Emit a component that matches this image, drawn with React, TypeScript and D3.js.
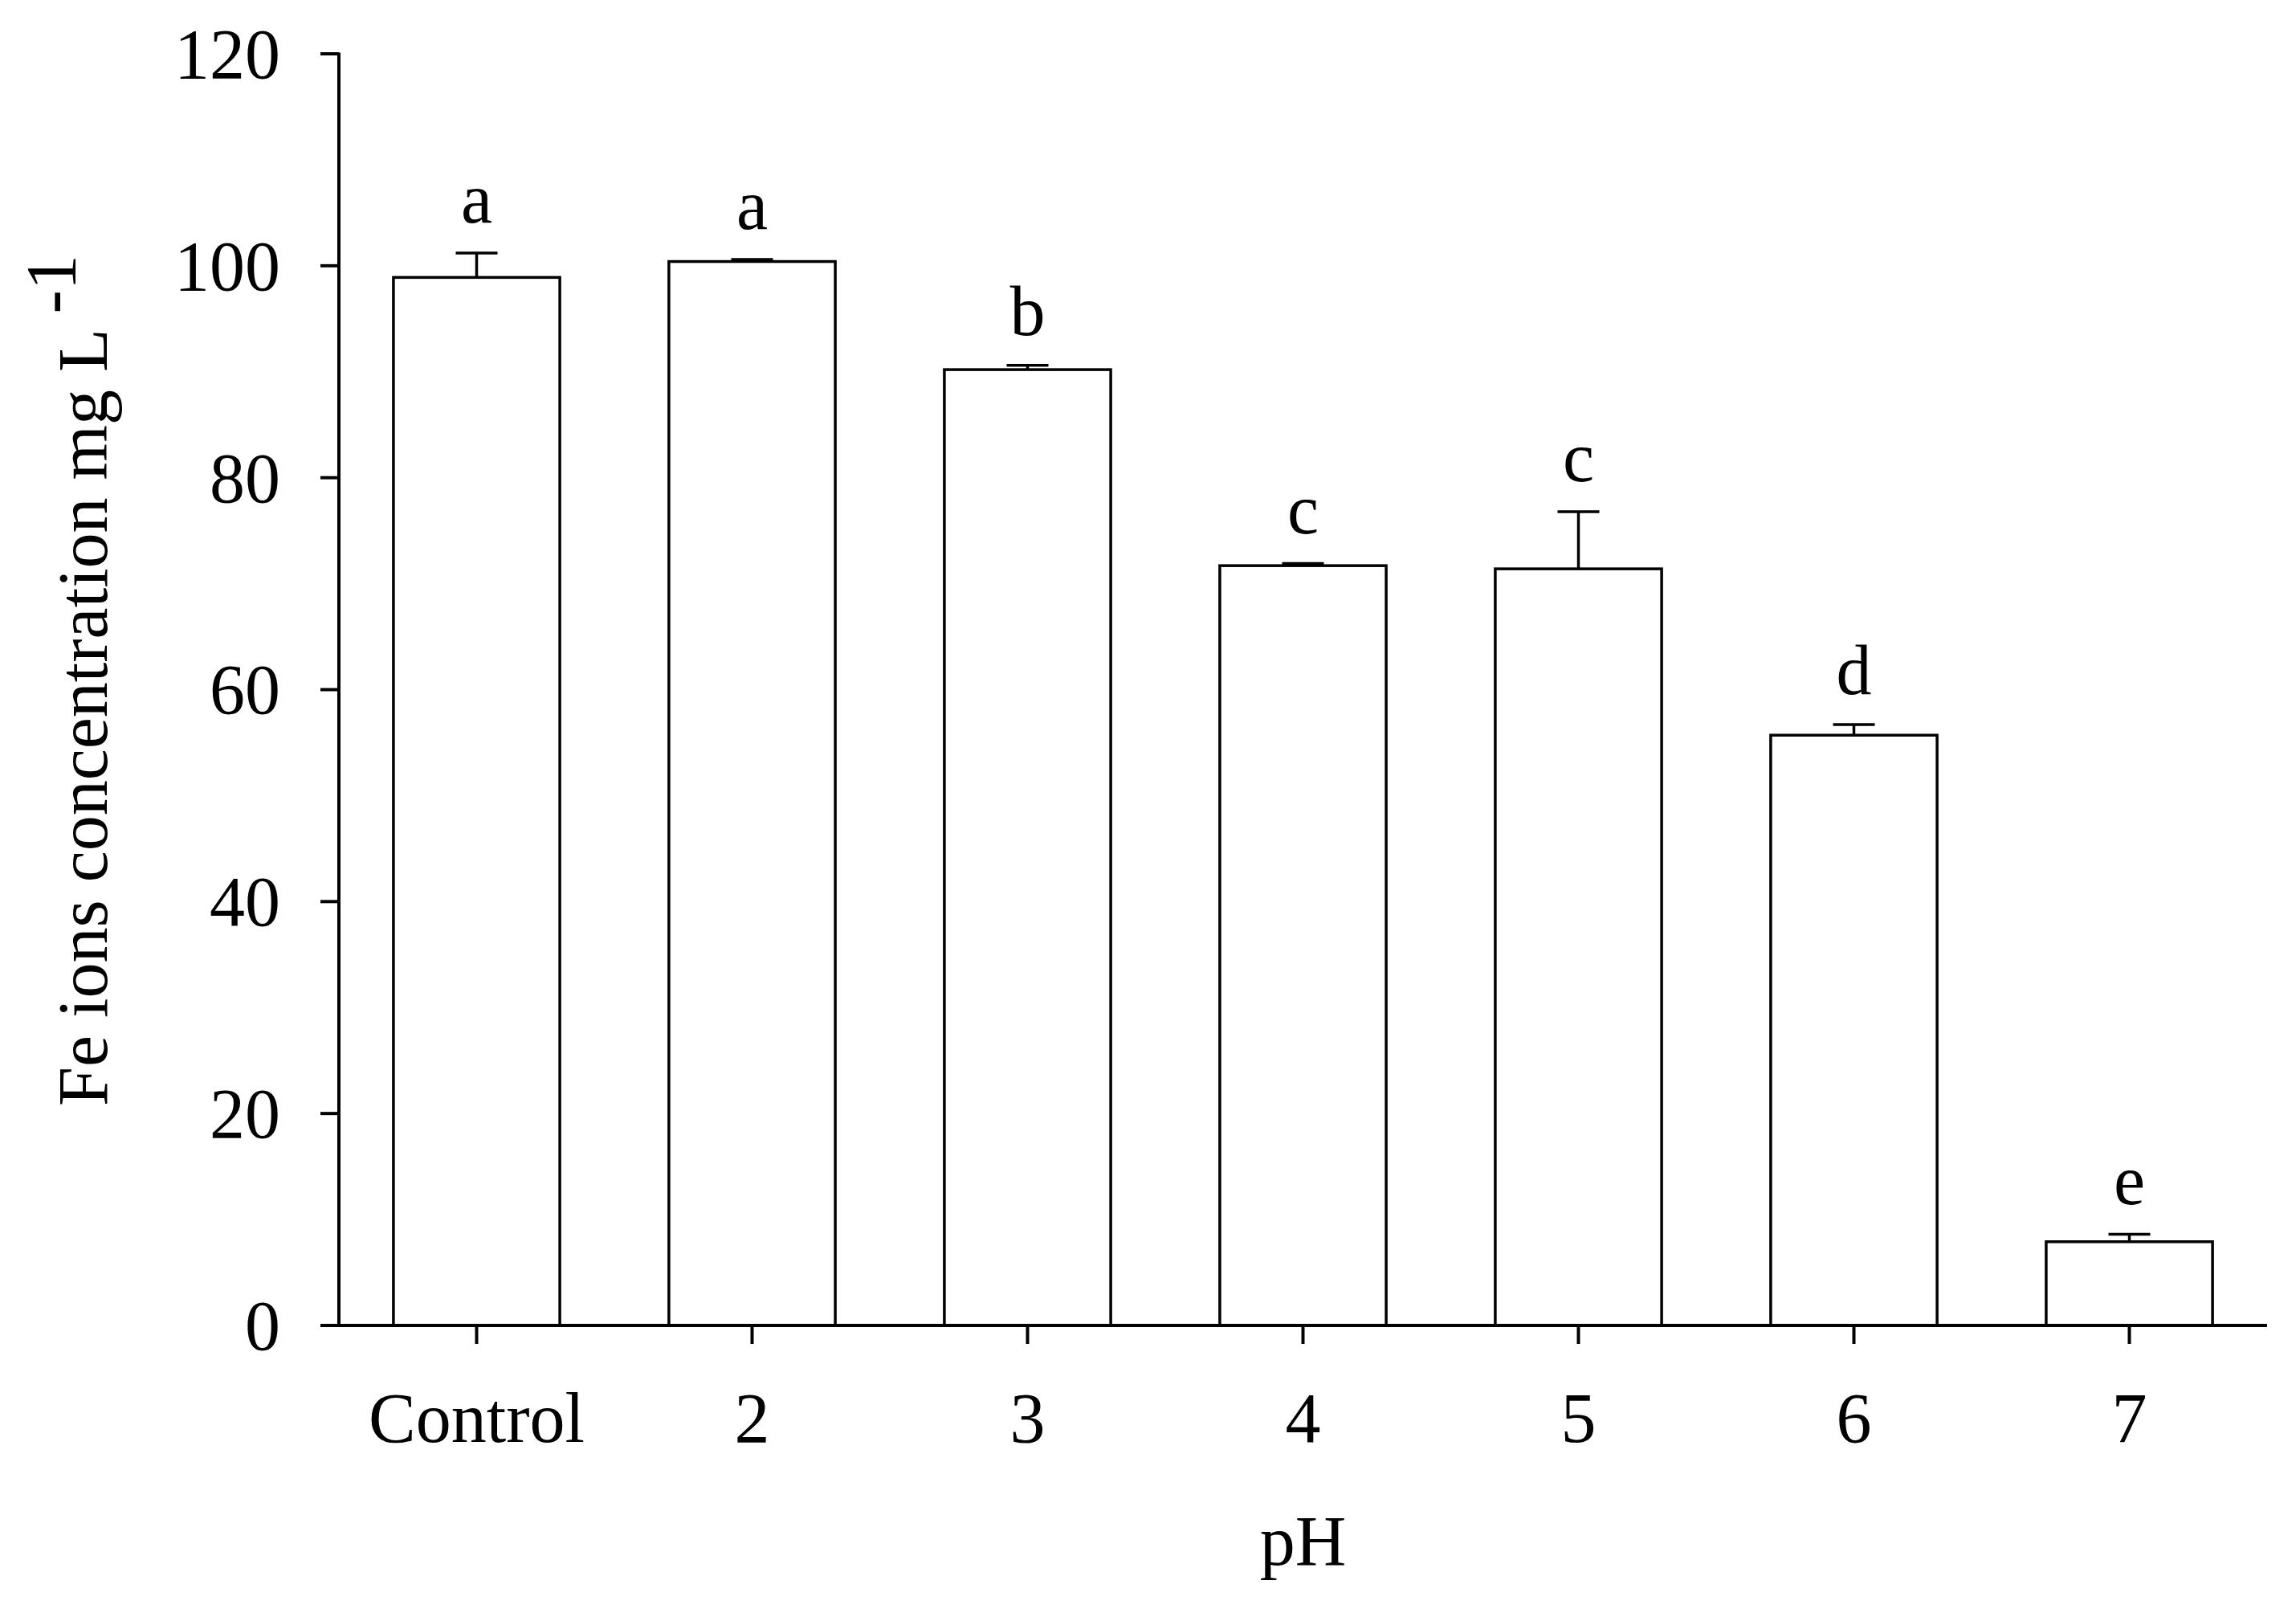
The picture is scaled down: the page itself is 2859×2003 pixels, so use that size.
import React from 'react';
import * as d3 from 'd3';

const categories = ['Control', '2', '3', '4', '5', '6', '7'];
const means = [98.9, 100.4, 90.2, 71.7, 71.4, 55.7, 7.9];
const errors = [2.3, 0.2, 0.4, 0.2, 5.4, 1.0, 0.7];
const letters = ['a', 'a', 'b', 'c', 'c', 'd', 'e'];
const yTicks = [0, 20, 40, 60, 80, 100, 120];
const xTitle = 'pH';
const yTitle = 'Fe ions concentration mg L';
const yTitleSup = '-1';

const W = 2859;
const H = 2003;
const FONT = '"Liberation Serif", "Times New Roman", serif';

export default function App() {
  const x0 = 422, x1 = 2823;
  const yTop = 67, yBottom = 1650;
  const x = d3.scaleBand<string>().domain(categories).range([x0, x1]).paddingInner(0.396).paddingOuter(0.198);
  const y = d3.scaleLinear().domain([0, 120]).range([yBottom, yTop]);
  const bw = x.bandwidth();
  const capW = 52;
  const tickLen = 23;
  const fs = 88;

  return (
    <svg width={W} height={H} style={{ position: 'absolute', left: 0, top: 0, background: '#fff' }}
      fontFamily={FONT}>
      <rect x={0} y={0} width={W} height={H} fill="#fff" />
      {/* bars */}
      {categories.map((c, i) => {
        const cx = (x(c) as number) + bw / 2;
        const top = y(means[i]);
        const errTop = y(means[i] + errors[i]);
        return (
          <g key={c}>
            <rect x={x(c)} y={top} width={bw} height={yBottom - top} fill="#fff" stroke="#000" strokeWidth={3.5} />
            <line x1={cx} x2={cx} y1={top} y2={errTop} stroke="#000" strokeWidth={3.5} />
            <line x1={cx - capW / 2} x2={cx + capW / 2} y1={errTop} y2={errTop} stroke="#000" strokeWidth={3.5} />
            <text x={cx} y={errTop - 38} textAnchor="middle" fontSize={fs} fill="#000">{letters[i]}</text>
          </g>
        );
      })}
      {/* y axis */}
      <line x1={x0} x2={x0} y1={yTop - 1.5} y2={yBottom + 2} stroke="#000" strokeWidth={4} />
      {yTicks.map(t => (
        <g key={t}>
          <line x1={x0 - tickLen} x2={x0} y1={y(t)} y2={y(t)} stroke="#000" strokeWidth={4} />
          <text x={349} y={y(t)} dy="0.34em" textAnchor="end" fontSize={fs} fill="#000">{t}</text>
        </g>
      ))}
      {/* x axis */}
      <line x1={x0 - tickLen} x2={x1} y1={yBottom} y2={yBottom} stroke="#000" strokeWidth={4} />
      {categories.map(c => {
        const cx = (x(c) as number) + bw / 2;
        return (
          <g key={'t' + c}>
            <line x1={cx} x2={cx} y1={yBottom} y2={yBottom + tickLen} stroke="#000" strokeWidth={4} />
            <text x={cx} y={1795} textAnchor="middle" fontSize={fs} fill="#000">{c}</text>
          </g>
        );
      })}
      <text x={(x0 + x1) / 2} y={1948} textAnchor="middle" fontSize={fs} fill="#000">{xTitle}</text>
      <text transform="translate(133,1377) rotate(-90)" textAnchor="start" fontSize={fs} fill="#000">
        {yTitle + ' '}
        <tspan dy={-40}>{yTitleSup}</tspan>
      </text>
    </svg>
  );
}
